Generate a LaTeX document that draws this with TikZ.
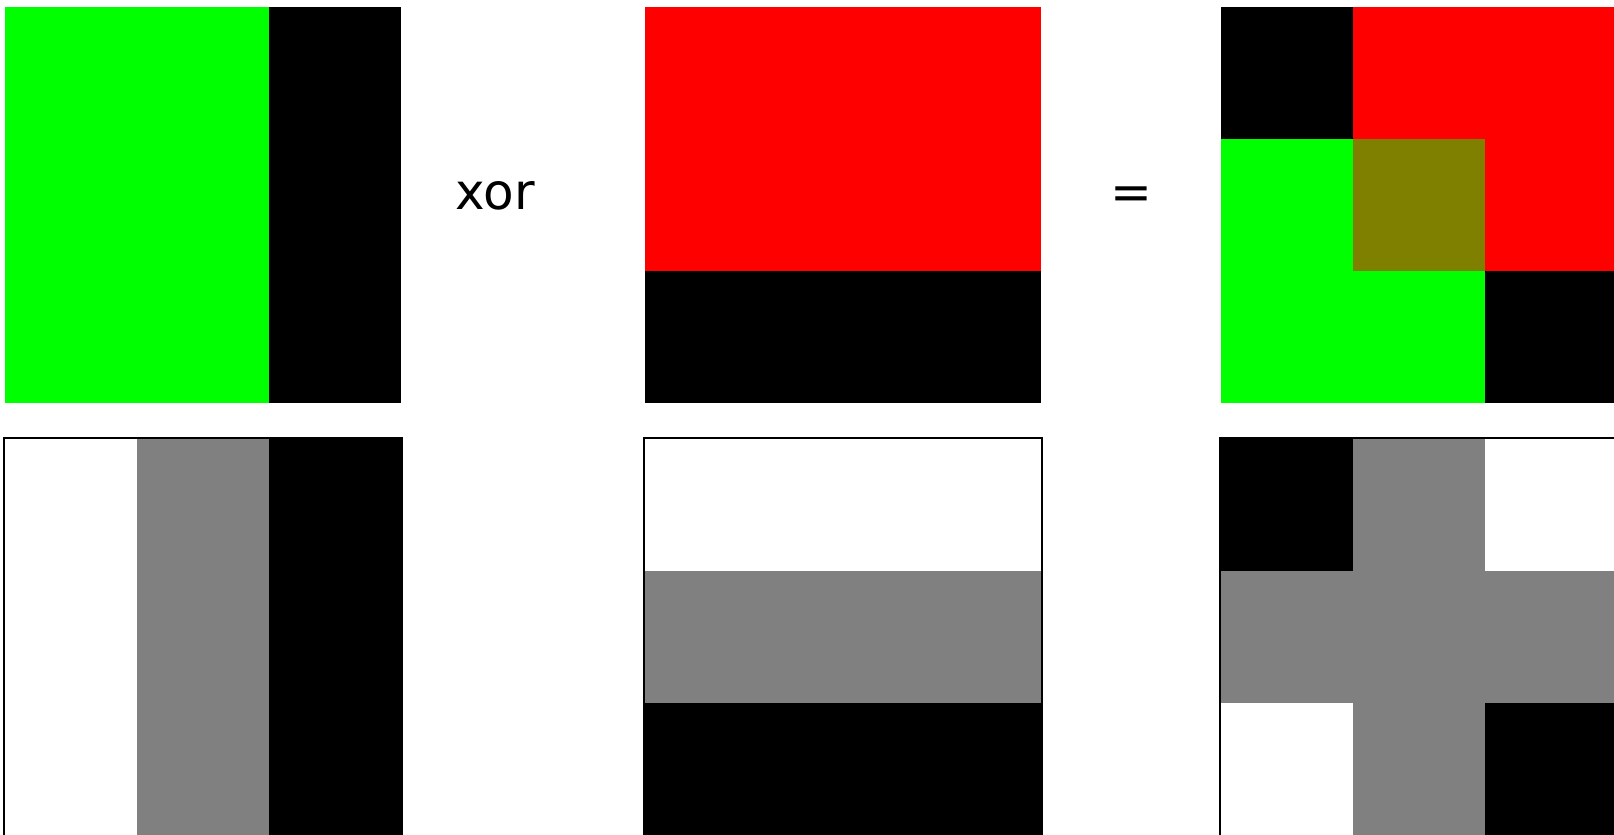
\documentclass[tikz,border=0pt]{standalone}
\usepackage{fontspec}
\setmainfont{DejaVu Sans}
\definecolor{mixgreen}{HTML}{00FF00}
\definecolor{mixred}{HTML}{FF0000}
\definecolor{mixolive}{HTML}{808000}
\definecolor{mixgray}{HTML}{808080}
\newcommand{\tile}[2]{% origin, nine colours row by row
  \foreach \col [count=\i from 0] in {#2} {
    \pgfmathtruncatemacro\cx{mod(\i,3)}
    \pgfmathtruncatemacro\cy{div(\i,3)}
    \fill[\col,shift={(#1)}] (\cx*132,\cy*132) rectangle ++(132,132);
  }}
\begin{document}
\begin{tikzpicture}[x=1pt,y=-1pt,
  frame/.style={draw=black,line width=1.6pt},
  word/.style={font=\fontsize{50}{60}\selectfont,inner sep=0pt,anchor=base}]
  \useasboundingbox (0,0) rectangle (1614,835);
  % top row: colour masks
  \tile{5,7}{mixgreen,mixgreen,black,mixgreen,mixgreen,black,mixgreen,mixgreen,black}
  \tile{645,7}{mixred,mixred,mixred,mixred,mixred,mixred,black,black,black}
  \tile{1221,7}{black,mixred,mixred,mixgreen,mixolive,mixred,mixgreen,mixgreen,black}
  % bottom row: grey levels
  \tile{5,439}{white,mixgray,black,white,mixgray,black,white,mixgray,black}
  \tile{645,439}{white,white,white,mixgray,mixgray,mixgray,black,black,black}
  \tile{1221,439}{black,mixgray,white,mixgray,mixgray,mixgray,white,mixgray,black}
  \draw[frame] (4,438) rectangle (402,836);
  \draw[frame] (644,438) rectangle (1042,836);
  \draw[frame] (1220,438) rectangle (1618,836);
  \node[word] (xor) at (495,209.5) {xor};
  \node[word] (eq) at (1131.5,209.5) {=};
\end{tikzpicture}
\end{document}
